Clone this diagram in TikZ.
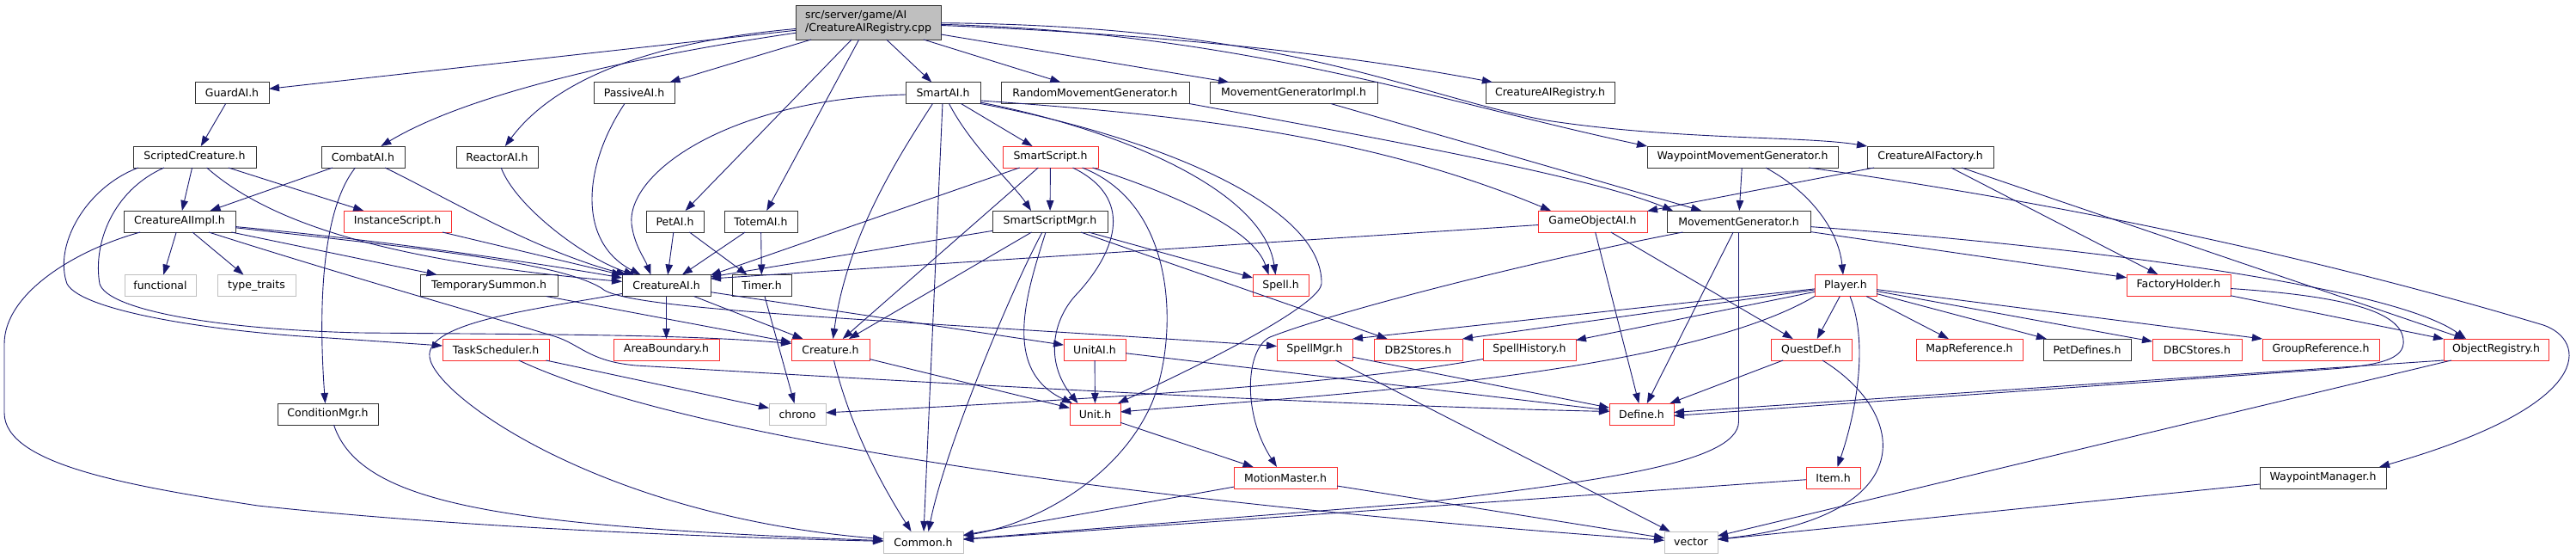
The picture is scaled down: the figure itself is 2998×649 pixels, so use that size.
\documentclass[tikz,border=0pt]{standalone}
\usepackage{fontspec}
\usetikzlibrary{arrows.meta}
\newfontfamily\dxfam{DejaVu Sans}
\newcommand{\dxfont}{\dxfam\fontsize{12.5pt}{15pt}\selectfont}
\definecolor{edgeblue}{RGB}{25,25,112}
\definecolor{nodered}{RGB}{250,45,45}
\definecolor{nodegray}{RGB}{191,191,191}
\tikzset{
  nbox/.style={rectangle, inner sep=0pt, outer sep=0pt, minimum height=25pt, line width=1pt, font=\dxfont, text=black},
  blk/.style={nbox, draw=black!80},
  redn/.style={nbox, draw=nodered},
  grayn/.style={nbox, draw=nodegray},
  dep/.style={draw=edgeblue, line width=0.9pt, -{Triangle[length=12pt,width=8.5pt]}},
}
\begin{document}
\begin{tikzpicture}[x=1pt,y=-1pt]
\useasboundingbox (0,0) rectangle (2998,649);
\fill[white] (0,0) rectangle (2998,649);
% row 0
\node[nbox, draw=black!80, fill=nodegray, minimum width=169pt, minimum height=40pt, align=left] (root) at (1010.5,26) {src/server/game/AI\\/CreatureAIRegistry.cpp};
% row 1
\node[blk, minimum width=86pt] (guard) at (270,108) {GuardAI.h};
\node[blk, minimum width=94pt] (passive) at (738,108) {PassiveAI.h};
\node[blk, minimum width=87pt] (smartai) at (1097.5,108) {SmartAI.h};
\node[blk, minimum width=219pt] (randmov) at (1274.5,108) {RandomMovementGenerator.h};
\node[blk, minimum width=195pt] (movimpl) at (1505.5,108) {MovementGeneratorImpl.h};
\node[blk, minimum width=150pt] (airegh) at (1804,108) {CreatureAIRegistry.h};
% row 2
\node[blk, minimum width=143pt] (scripted) at (226.5,182.5) {ScriptedCreature.h};
\node[blk, minimum width=97pt] (combat) at (422.5,182.5) {CombatAI.h};
\node[blk, minimum width=95pt] (reactor) at (578.5,182.5) {ReactorAI.h};
\node[redn, minimum width=111pt] (sscript) at (1222.5,182.5) {SmartScript.h};
\node[blk, minimum width=222pt] (wpmg) at (2028,182.5) {WaypointMovementGenerator.h};
\node[blk, minimum width=147pt] (aifact) at (2246.5,182.5) {CreatureAIFactory.h};
% row 3
\node[blk, minimum width=130pt] (aiimpl) at (209,257.5) {CreatureAIImpl.h};
\node[redn, minimum width=125pt] (instance) at (462.5,257.5) {InstanceScript.h};
\node[blk, minimum width=67pt] (petai) at (785.5,257.5) {PetAI.h};
\node[blk, minimum width=85pt] (totem) at (885.5,257.5) {TotemAI.h};
\node[blk, minimum width=134pt] (ssmgr) at (1222,257.5) {SmartScriptMgr.h};
\node[redn, minimum width=127pt] (goai) at (1853.5,257.5) {GameObjectAI.h};
\node[blk, minimum width=167pt] (movgen) at (2023.5,257.5) {MovementGenerator.h};
% row 4
\node[grayn, minimum width=83pt] (functional) at (186.5,332) {functional};
\node[grayn, minimum width=91pt] (typetraits) at (298.5,332) {type\_traits};
\node[blk, minimum width=160pt] (tsummon) at (569,332) {TemporarySummon.h};
\node[blk, minimum width=103pt] (cai) at (775.5,332) {CreatureAI.h};
\node[blk, minimum width=69pt] (timer) at (886.5,332) {Timer.h};
\node[redn, minimum width=65pt] (spell) at (1490.5,332) {Spell.h};
\node[redn, minimum width=72pt] (player) at (2148,332) {Player.h};
\node[redn, minimum width=121pt] (facthold) at (2535.5,331.5) {FactoryHolder.h};
% row 5
\node[redn, minimum width=124pt] (tasksch) at (577,406.5) {TaskScheduler.h};
\node[redn, minimum width=123pt] (areab) at (775.5,406.5) {AreaBoundary.h};
\node[redn, minimum width=91pt] (creature) at (966.5,406.5) {Creature.h};
\node[redn, minimum width=72pt] (unitai) at (1274,406.5) {UnitAI.h};
\node[redn, minimum width=88pt] (spellmgr) at (1530,406.5) {SpellMgr.h};
\node[redn, minimum width=103pt] (dbtwo) at (1650.5,406.5) {DB2Stores.h};
\node[redn, minimum width=108pt] (spellhist) at (1780,406.5) {SpellHistory.h};
\node[redn, minimum width=94pt] (questdef) at (2108,406.5) {QuestDef.h};
\node[redn, minimum width=124pt] (mapref) at (2292,406.5) {MapReference.h};
\node[blk, minimum width=102pt] (petdef) at (2429,406.5) {PetDefines.h};
\node[redn, minimum width=104pt] (dbcst) at (2557,406.5) {DBCStores.h};
\node[redn, minimum width=136pt] (groupref) at (2701,406.5) {GroupReference.h};
\node[redn, minimum width=122pt] (objreg) at (2905,406.5) {ObjectRegistry.h};
% row 6
\node[blk, minimum width=117pt] (condmgr) at (381.5,481.5) {ConditionMgr.h};
\node[grayn, minimum width=66pt] (chrono) at (928,481.5) {chrono};
\node[redn, minimum width=59pt] (unit) at (1274.5,481.5) {Unit.h};
\node[redn, minimum width=75pt] (define) at (1910.5,481.5) {Define.h};
% row 7
\node[redn, minimum width=120pt] (motion) at (1496,555.5) {MotionMaster.h};
\node[redn, minimum width=63pt] (item) at (2133.5,555.5) {Item.h};
\node[blk, minimum width=147pt] (wpmgr) at (2703.5,555.5) {WaypointManager.h};
% row 8
\node[grayn, minimum width=93pt] (common) at (1074.5,630.5) {Common.h};
\node[grayn, minimum width=62pt] (vector) at (1968,630.5) {vector};

% ---- edges from root
\draw[dep] (root) -- (guard);
\draw[dep] (root) .. controls (790,58) and (560,100) .. (combat);
\draw[dep] (root) .. controls (740,50) and (640,100) .. (reactor);
\draw[dep] (root) -- (passive);
\draw[dep] (root) -- (petai);
\draw[dep] (root) -- (totem);
\draw[dep] (root) -- (smartai);
\draw[dep] (root) -- (randmov);
\draw[dep] (root) -- (movimpl);
\draw[dep] (root) .. controls (1400,42) and (1600,70) .. (airegh);
\draw[dep] (root) .. controls (1450,38) and (1680,120) .. (wpmg.north west);
\draw[dep] (root) .. controls (1500,30) and (1640,110) .. (1800,140) .. controls (1950,163) and (2100,158) .. (aifact.north west);
% ---- guard / scripted
\draw[dep] (guard) -- (scripted);
\draw[dep] (scripted) -- (aiimpl);
\draw[dep] (scripted) -- (instance);
\draw[dep] (scripted) .. controls (320,265) and (470,305) .. (cai);
\draw[dep] ([xshift=6pt]scripted.south west) .. controls (100,218) and (62,285) .. (78,330) .. controls (95,362) and (250,386) .. (383,393) -- ([yshift=4.5pt]tasksch.west);
\draw[dep] ([xshift=36pt]scripted.south west) .. controls (130,222) and (108,285) .. (116,330) .. controls (125,360) and (250,383) .. (420,387) .. controls (650,389) and (800,389) .. ([yshift=7pt]creature.west);
% ---- CreatureAIImpl
\draw[dep] (aiimpl) -- (functional);
\draw[dep] (aiimpl) -- (typetraits);
\draw[dep] (aiimpl) -- (tsummon);
\draw[dep] (aiimpl) .. controls (450,280) and (620,305) .. (cai);
\draw[dep] (aiimpl) .. controls (500,290) and (650,305) .. (700,335) .. controls (725,360) and (1000,370) .. ([yshift=4pt]spellmgr.west);
\draw[dep] (aiimpl) .. controls (90,290) and (5,340) .. (5,400) -- (5,480) .. controls (5,540) and (150,565) .. (300,588) .. controls (550,615) and (850,625) .. (common);
\draw[dep] ([xshift=34pt]aiimpl.south) .. controls (400,320) and (560,365) .. (645,391) .. controls (675,400) and (685,420) .. (740,425) .. controls (1000,440) and (1500,470) .. ([yshift=3pt]define.west);
% ---- CombatAI, ReactorAI, PassiveAI, InstanceScript, PetAI, TotemAI
\draw[dep] (combat) -- (aiimpl);
\draw[dep] (combat) .. controls (520,230) and (620,290) .. (cai);
\draw[dep] ([xshift=-9pt]combat.south) .. controls (370,250) and (372,380) .. ([xshift=-3pt]condmgr.north);
\draw[dep] (reactor) .. controls (600,240) and (680,300) .. (cai);
\draw[dep] ([xshift=-11pt]passive.south) .. controls (680,190) and (670,280) .. ([xshift=-30pt]cai.north);
\draw[dep] (instance) -- (cai);
\draw[dep] (petai) -- (cai);
\draw[dep] (petai) -- (timer);
\draw[dep] (totem) -- (cai);
\draw[dep] (totem) -- (timer);
% ---- SmartAI
\draw[dep] ([yshift=-2pt]smartai.west) .. controls (850,115) and (730,200) .. (735,260) .. controls (738,285) and (750,300) .. ([xshift=-18pt]cai.north);
\draw[dep] ([xshift=-12pt]smartai.south) .. controls (1040,190) and (985,280) .. ([xshift=3pt]creature.north);
\draw[dep] (smartai) -- (common);
\draw[dep] ([xshift=7pt]smartai.south) .. controls (1130,170) and (1180,215) .. ([xshift=-22pt]ssmgr.north);
\draw[dep] (smartai) -- (sscript);
\draw[dep] ([yshift=-9pt]smartai.east) .. controls (1400,135) and (1600,160) .. ([xshift=15pt]goai.north west);
\draw[dep] ([yshift=-11pt]smartai.east) .. controls (1300,150) and (1470,220) .. ([xshift=-6pt]spell.north);
\draw[dep] (smartai.south east) .. controls (1350,160) and (1540,240) .. (1538,330) .. controls (1536,350) and (1450,400) .. ([xshift=-3pt]unit.north east);
% ---- SmartScriptMgr
\draw[dep] (ssmgr) -- ([yshift=10pt]cai.east);
\draw[dep] (ssmgr) -- (creature);
\draw[dep] ([xshift=-9pt]ssmgr.south) .. controls (1180,330) and (1100,520) .. ([xshift=6pt]common.north);
\draw[dep] ([xshift=-5pt]ssmgr.south) .. controls (1195,340) and (1165,430) .. ([xshift=3pt]unit.north west);
\draw[dep] (ssmgr) -- (dbtwo);
\draw[dep] (ssmgr) -- (spell);
% ---- SmartScript
\draw[dep] (sscript) -- ([yshift=12pt]cai.east);
\draw[dep] (sscript) -- (creature);
\draw[dep] (sscript) -- (ssmgr);
\draw[dep] ([xshift=26pt]sscript.south) .. controls (1320,230) and (1300,290) .. (1255,340) .. controls (1225,370) and (1215,420) .. ([xshift=-20pt]unit.north);
\draw[dep] ([xshift=37pt]sscript.south) .. controls (1375,240) and (1370,400) .. (1340,470) .. controls (1300,560) and (1200,610) .. (common);
\draw[dep] ([xshift=49pt]sscript.south) .. controls (1380,230) and (1460,270) .. ([xshift=-14pt]spell.north);
% ---- CreatureAI
\draw[dep] (cai) -- (areab);
\draw[dep] (cai) -- (creature);
\draw[dep] (cai) -- (unitai);
\draw[dep] ([yshift=3pt]cai.south west) .. controls (620,360) and (495,375) .. (500,415) .. controls (505,460) and (700,600) .. (common);
% ---- misc
\draw[dep] (tsummon) -- (creature);
\draw[dep] (timer) -- (chrono);
\draw[dep] (tasksch) -- (chrono);
\draw[dep] (tasksch) .. controls (820,520) and (1400,590) .. (vector);
\draw[dep] (creature) -- (unit);
\draw[dep] ([xshift=4pt]creature.south) .. controls (990,500) and (1030,570) .. ([xshift=-14pt]common.north);
\draw[dep] (unitai) -- (unit);
\draw[dep] (unitai) -- (define);
\draw[dep] (unit) -- (motion);
\draw[dep] (spellmgr) -- (define);
\draw[dep] (spellmgr) -- (vector);
\draw[dep] (motion) -- (common);
\draw[dep] (motion) -- (vector);
\draw[dep] ([xshift=7pt]condmgr.south) .. controls (420,590) and (600,612) .. (common);
\draw[dep] ([yshift=-11pt]spellhist.west) .. controls (1600,440) and (1400,458) .. (chrono);
% ---- Movement generators
\draw[dep] (randmov.south east) .. controls (1600,160) and (1850,205) .. ([xshift=7pt]movgen.north west);
\draw[dep] (movimpl) -- (movgen);
\draw[dep] ([xshift=-65pt]movgen.south) .. controls (1800,300) and (1560,360) .. (1478,392) .. controls (1450,405) and (1445,480) .. ([xshift=-10pt]motion.north);
\draw[dep] (movgen) -- (define);
\draw[dep] (movgen.south) -- (2023.5,490) .. controls (2023.5,540) and (1850,560) .. (1650,585) -- (common);
\draw[dep] (movgen) .. controls (2400,285) and (2780,330) .. ([xshift=-35pt]objreg.north);
\draw[dep] (movgen) -- (facthold);
\draw[dep] (wpmg) -- (movgen);
\draw[dep] ([xshift=27pt]wpmg.south) .. controls (2110,225) and (2140,270) .. ([xshift=-3pt]player.north);
\draw[dep] ([xshift=77pt]wpmg.south) .. controls (2500,250) and (2800,330) .. (2960,378) .. controls (3010,395) and (3025,470) .. ([xshift=-8pt]wpmgr.north east);
% ---- CreatureAIFactory
\draw[dep] (aifact) -- (goai);
\draw[dep] (aifact) -- (facthold);
\draw[dep] (aifact) -- (objreg);
% ---- GameObjectAI
\draw[dep] (goai) -- ([yshift=8pt]cai.east);
\draw[dep] (goai) -- (define);
\draw[dep] (goai) -- (questdef);
% ---- Player
\draw[dep] (player) -- (spellmgr.north east);
\draw[dep] (player) -- (dbtwo.north east);
\draw[dep] (player) -- (spellhist);
\draw[dep] (player.south west) .. controls (1950,440) and (1500,462) .. (unit);
\draw[dep] (player) -- (questdef);
\draw[dep] ([xshift=5pt]player.south) .. controls (2175,400) and (2160,480) .. ([xshift=5pt]item.north);
\draw[dep] (player) -- (mapref);
\draw[dep] (player) -- (petdef);
\draw[dep] (player) -- (dbcst);
\draw[dep] (player) -- (groupref.north west);
% ---- QuestDef, Item, FactoryHolder, ObjectRegistry, WaypointManager
\draw[dep] (questdef) -- (define);
\draw[dep] ([xshift=13pt]questdef.south) .. controls (2220,480) and (2240,600) .. (vector);
\draw[dep] (item) -- (common);
\draw[dep] (facthold) -- (objreg);
\draw[dep] ([yshift=-4pt]facthold.east) .. controls (2740,345) and (2800,365) .. (2797,400) .. controls (2795,420) and (2760,426) .. (2700,430) -- ([yshift=-2pt]define.east);
\draw[dep] (objreg.south west) -- ([yshift=2pt]define.east);
\draw[dep] (objreg) -- (vector);
\draw[dep] (wpmgr) -- (vector);
\end{tikzpicture}
\end{document}
